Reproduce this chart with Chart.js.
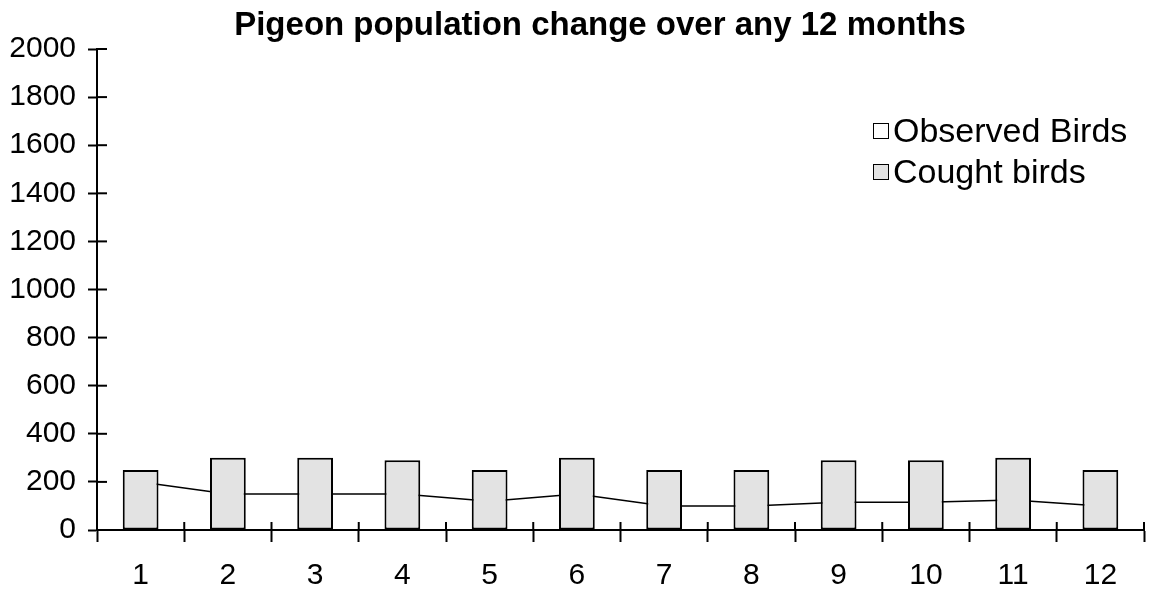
<!DOCTYPE html>
<html>
<head>
<meta charset="utf-8">
<title>Pigeon population</title>
<script src="https://cdn.jsdelivr.net/npm/chart.js@4.4.1/dist/chart.umd.min.js"></script>
<style>
  body { margin: 0; background: #fff; }
  #wrap { position: relative; width: 1151px; height: 590px; overflow: hidden; font-family: 'Liberation Sans', Arial, sans-serif; color: #000; }
  #title { position: absolute; left: 0; top: 7px; width: 1200px; text-align: center; white-space: nowrap; font-weight: bold; font-size: 33px; line-height: 33px; }
  #legend { position: absolute; left: 873px; top: 110px; }
  .item { display: flex; align-items: center; height: 41px; font-size: 34px; white-space: nowrap; }
  .box { width: 16px; height: 16px; border: 1.5px solid #000; box-sizing: border-box; margin-right: 4px; }
</style>
</head>
<body>
<div id="wrap">
  <canvas id="myChart" width="1151" height="590"></canvas>
  <div id="title"></div>
  <div id="legend"></div>
</div>
<script>
const chartTitle = 'Pigeon population change over any 12 months';
const months = ['1', '2', '3', '4', '5', '6', '7', '8', '9', '10', '11', '12'];
const observedBirds = [200, 150, 150, 150, 120, 150, 100, 100, 115, 115, 125, 100];
const coughtBirds = [250, 300, 300, 290, 250, 300, 250, 250, 290, 290, 300, 250];
const yMin = 0, yMax = 2000, yStep = 200;

const fontFamily = "'Liberation Sans', Arial, sans-serif";

// ticks that cross the axis lines (the outer half is drawn by Chart.js)
const innerTicks = {
  id: 'innerTicks',
  afterDraw(chart) {
    const ctx = chart.ctx, area = chart.chartArea;
    const xs = chart.scales.x, ys = chart.scales.y;
    ctx.save();
    ctx.strokeStyle = '#000';
    ctx.lineWidth = 2;
    ys.ticks.forEach(function (t, i) {
      const py = ys.getPixelForTick(i);
      ctx.beginPath();
      ctx.moveTo(area.left, py);
      ctx.lineTo(area.left + 10, py);
      ctx.stroke();
    });
    for (let i = 0; i <= months.length; i++) {
      const px = xs.getPixelForValue(i - 0.5);
      ctx.beginPath();
      ctx.moveTo(px, area.bottom);
      ctx.lineTo(px, area.bottom - 8);
      ctx.stroke();
    }
    ctx.restore();
  }
};

const ctx = document.getElementById('myChart');
const chart = new Chart(ctx, {
  type: 'bar',
  data: {
    labels: months,
    datasets: [{
      type: 'line',
      label: 'Observed Birds',
      data: observedBirds,
      borderColor: '#000',
      backgroundColor: '#ffffff',
      borderWidth: 1.5,
      pointRadius: 0,
      tension: 0,
      order: 2
    }, {
      type: 'bar',
      label: 'Cought birds',
      data: coughtBirds,
      backgroundColor: '#e3e3e3',
      borderColor: '#000',
      borderWidth: 2,
      borderSkipped: false,
      barPercentage: 0.41,
      categoryPercentage: 1,
      order: 1
    }]
  },
  options: {
    responsive: false,
    animation: false,
    devicePixelRatio: 1,
    layout: { padding: { top: 49, right: 7, left: 0, bottom: 0 } },
    plugins: {
      legend: { display: false },
      title: { display: false },
      tooltip: { enabled: false }
    },
    scales: {
      x: {
        offset: true,
        grid: { offset: true, drawOnChartArea: false, tickLength: 12, tickWidth: 2, tickColor: '#000' },
        border: { color: '#000', width: 2 },
        ticks: { color: '#000', padding: 16, font: { family: fontFamily, size: 30 } },
        afterFit(s) { s.height = 60; }
      },
      y: {
        min: yMin,
        max: yMax,
        grid: { drawOnChartArea: false, tickLength: 9, tickWidth: 2, tickColor: '#000' },
        border: { color: '#000', width: 2 },
        ticks: {
          stepSize: yStep, color: '#000', padding: 12,
          font: { family: fontFamily, size: 30 },
          callback: function (value) { return String(value); }
        },
        afterFit(s) { s.width = 97; }
      }
    }
  },
  plugins: [innerTicks]
});

// title and legend as html text
document.getElementById('title').textContent = chartTitle;
const legendEl = document.getElementById('legend');
chart.data.datasets.forEach(function (ds) {
  const item = document.createElement('div');
  item.className = 'item';
  const box = document.createElement('span');
  box.className = 'box';
  box.style.background = ds.backgroundColor;
  const txt = document.createElement('span');
  txt.textContent = ds.label;
  item.appendChild(box);
  item.appendChild(txt);
  legendEl.appendChild(item);
});
</script>
</body>
</html>
